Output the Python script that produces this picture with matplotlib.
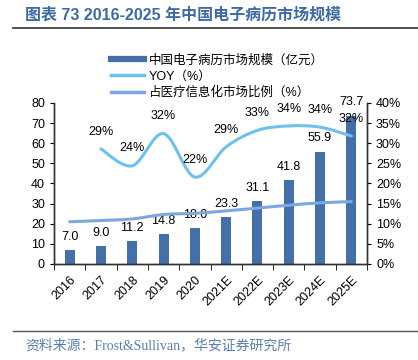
import matplotlib.pyplot as plt
import numpy as np
from matplotlib.path import Path
from matplotlib.patches import PathPatch
from matplotlib.lines import Line2D
from matplotlib.ticker import FuncFormatter

plt.rcParams['font.family'] = ['Liberation Sans', 'Noto Sans CJK SC']

# 数据
years = ['2016', '2017', '2018', '2019', '2020', '2021E', '2022E', '2023E', '2024E', '2025E']
market = [7.0, 9.0, 11.2, 14.8, 18.0, 23.3, 31.1, 41.8, 55.9, 73.7]
yoy = [28.6, 24.4, 32.4, 21.6, 29.1, 33.2, 34.3, 34.0, 31.8]   # 2017 起
share = [10.5, 10.8, 11.2, 12.3, 12.6, 13.2, 13.9, 14.6, 15.2, 15.5]

bar_color = '#4470A9'
yoy_color = '#6EC1EE'
share_color = '#7DA8DF'


def smooth_path(xs, ys, t=1 / 6):
    # Catmull-Rom 转 Bezier，模拟 Excel 平滑线
    pts = np.column_stack([xs, ys]).astype(float)
    n = len(pts)
    verts = [pts[0]]
    codes = [Path.MOVETO]
    for i in range(n - 1):
        p0 = pts[max(i - 1, 0)]
        p1 = pts[i]
        p2 = pts[i + 1]
        p3 = pts[min(i + 2, n - 1)]
        verts += [p1 + (p2 - p0) * t, p2 - (p3 - p1) * t, p2]
        codes += [Path.CURVE4] * 3
    return Path(verts, codes)


fig = plt.figure(figsize=(4.18, 3.6), dpi=100)
ax = fig.add_axes([54 / 418, 1 - 264 / 360, 313 / 418, 161 / 360])
ax2 = ax.twinx()

x = np.arange(len(years))
ax.bar(x, market, width=0.32, color=bar_color, zorder=2)
for xi, v in zip(x, market):
    ax.annotate(f'{v:.1f}', (xi, v), xytext=(0, 9.5), textcoords='offset points',
                ha='center', va='center', fontsize=9)

ax.set_xlim(-0.5, len(years) - 0.5)
ax.set_ylim(0, 80)
ax.set_yticks(range(0, 81, 10))
ax.set_xticks(x)
ax.set_xticklabels(years, rotation=45, ha='right', va='top', rotation_mode='anchor')
ax.set_xticks(np.arange(-0.5, len(years), 1), minor=True)
ax.tick_params(axis='x', which='major', length=0, pad=7, labelsize=9)
ax.tick_params(axis='x', which='minor', length=4, direction='out')
ax.tick_params(axis='y', length=3, labelsize=9)

ax2.set_ylim(0, 40)
ax2.set_yticks(range(0, 41, 5))
ax2.yaxis.set_major_formatter(FuncFormatter(lambda v, p: f'{v:.0f}%'))
ax2.tick_params(axis='y', length=3, labelsize=9)

for a in (ax, ax2):
    a.spines['top'].set_visible(False)
    for s in ('left', 'right', 'bottom'):
        a.spines[s].set_color('#333333')
        a.spines[s].set_linewidth(1.0)

# 占比线
ax2.add_patch(PathPatch(smooth_path(x, share), fill=False, ec=share_color, lw=2.2,
                        capstyle='round', zorder=3))
# YOY 线
ax2.add_patch(PathPatch(smooth_path(x[1:], yoy), fill=False, ec=yoy_color, lw=2.2,
                        capstyle='round', zorder=4))
for xi, v in zip(x[1:], yoy):
    ax2.annotate(f'{v:.0f}%', (xi, v), xytext=(0, 12.5), textcoords='offset points',
                 ha='center', va='center', fontsize=9, zorder=5)

handles = [Line2D([], [], color=bar_color, lw=4.5),
           Line2D([], [], color=yoy_color, lw=2.5),
           Line2D([], [], color=share_color, lw=2.5)]
labels = ['中国电子病历市场规模（亿元）', 'YOY（%）', '占医疗信息化市场比例（%）']
fig.legend(handles, labels, loc='upper left', bbox_to_anchor=(106 / 418, 1 - 49.5 / 360),
           frameon=False, fontsize=9, handlelength=2.6, handletextpad=0.4,
           labelspacing=0.32, borderaxespad=0)

fig.text(25 / 418, 1 - 15 / 360, '图表 73 2016-2025 年中国电子病历市场规模',
         fontsize=11.5, fontweight='bold', color='#3D6AA6', va='center')
fig.add_artist(Line2D([13 / 418, 1], [1 - 28 / 360] * 2, color='#333333', lw=1.2))
fig.add_artist(Line2D([13 / 418, 1], [1 - 331 / 360] * 2, color='#555555', lw=1.0))
fig.text(25 / 418, 1 - 345 / 360, '资料来源：Frost&Sullivan，华安证券研究所',
         fontsize=10, color='#5B7DB1', va='center',
         family=['Liberation Serif', 'Noto Sans CJK SC'])

fig.savefig('out.png', dpi=100)
